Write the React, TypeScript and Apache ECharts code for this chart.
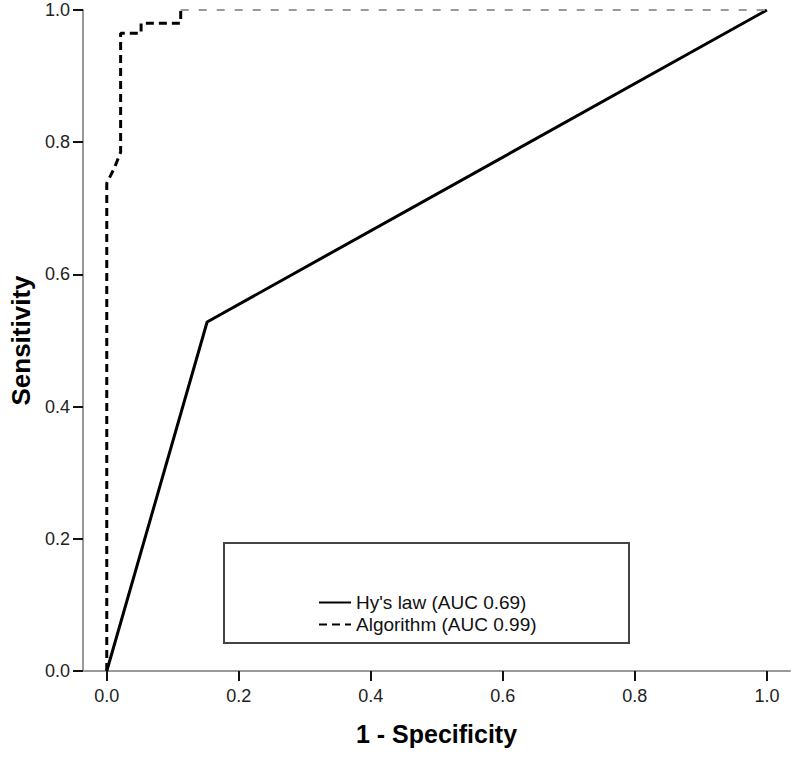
import React, { useEffect, useRef } from "react";
import * as echarts from "echarts";

const hyFpr = [0, 0.152, 1.0];
const hySens = [0, 0.528, 1.0];

const algFpr = [0, 0, 0.005, 0.012, 0.021, 0.021, 0.052, 0.052, 0.112, 0.112, 1.0];
const algSens = [0, 0.738, 0.748, 0.762, 0.785, 0.965, 0.965, 0.98, 0.98, 1.0, 1.0];

const tickValues = [0, 0.2, 0.4, 0.6, 0.8, 1.0];
const hyName = "Hy's law (AUC 0.69)";
const algName = "Algorithm (AUC 0.99)";

export default function App() {
  const ref = useRef<HTMLDivElement>(null);
  useEffect(() => {
    if (!ref.current) return;
    const chart = echarts.init(ref.current, undefined, { renderer: "svg" });
    const hy = hyFpr.map((x, i) => [x, hySens[i]]);
    const alg = algFpr.map((x, i) => [x, algSens[i]]);
    const split = alg.length - 2;
    const algMain = alg.slice(0, split + 1);
    const algTail = alg.slice(split);
    const labelStyle = {
      color: "#222",
      fontFamily: "Liberation Sans, Arial, sans-serif",
      fontSize: 18,
      formatter: (v: number) => v.toFixed(1),
    };
    const nameStyle = {
      color: "#000",
      fontFamily: "Liberation Sans, Arial, sans-serif",
      fontWeight: "bold",
    };
    chart.setOption({
      animation: false,
      backgroundColor: "#fff",
      grid: {
        left: 83,
        right: 10,
        top: 10,
        bottom: 87,
        containLabel: false,
        outerBoundsMode: "none",
      },
      xAxis: {
        type: "value",
        min: -0.036,
        max: 1.035,
        name: "1 - Specificity",
        nameLocation: "middle",
        nameGap: 50,
        nameTextStyle: { ...nameStyle, fontSize: 25 },
        axisLine: { show: true, onZero: false, lineStyle: { color: "#999", width: 2 } },
        axisTick: {
          show: true,
          length: 10,
          customValues: tickValues,
          lineStyle: { color: "#111", width: 2 },
        },
        axisLabel: { ...labelStyle, margin: 16, customValues: tickValues },
        splitLine: { show: false },
      },
      yAxis: {
        type: "value",
        min: 0,
        max: 1,
        interval: 0.2,
        name: "Sensitivity",
        nameLocation: "middle",
        nameGap: 48,
        nameTextStyle: { ...nameStyle, fontSize: 26 },
        axisLine: { show: true, onZero: false, lineStyle: { color: "#999", width: 2 } },
        axisTick: { show: true, length: 10, lineStyle: { color: "#111", width: 2 } },
        axisLabel: { ...labelStyle, margin: 13 },
        splitLine: { show: false },
      },
      legend: {
        orient: "vertical",
        left: 318,
        top: 593,
        padding: 0,
        itemWidth: 32,
        itemHeight: 12,
        itemGap: 3,
        itemStyle: { color: "transparent", borderWidth: 0, opacity: 0 },
        textStyle: {
          color: "#111",
          fontFamily: "Liberation Sans, Arial, sans-serif",
          fontSize: 19,
        },
        data: [hyName, algName],
      },
      graphic: [
        {
          type: "rect",
          shape: { x: 224, y: 543, width: 405, height: 100 },
          style: { fill: "none", stroke: "#444", lineWidth: 2 },
          z: 10,
        },
      ],
      series: [
        {
          name: hyName,
          type: "line",
          data: hy,
          symbol: "none",
          lineStyle: { color: "#000", width: 3 },
          itemStyle: { color: "#000" },
        },
        {
          name: algName,
          type: "line",
          data: algMain,
          symbol: "none",
          lineStyle: { color: "#000", width: 3, type: [8, 5] },
          itemStyle: { color: "#000" },
        },
        {
          name: "tail",
          type: "line",
          data: algTail,
          symbol: "none",
          lineStyle: { color: "#999", width: 2, type: [8, 10] },
        },
      ],
    });
    return () => chart.dispose();
  }, []);
  return (
    <div
      ref={ref}
      style={{ position: "absolute", left: 0, top: 0, width: 800, height: 758 }}
    />
  );
}
